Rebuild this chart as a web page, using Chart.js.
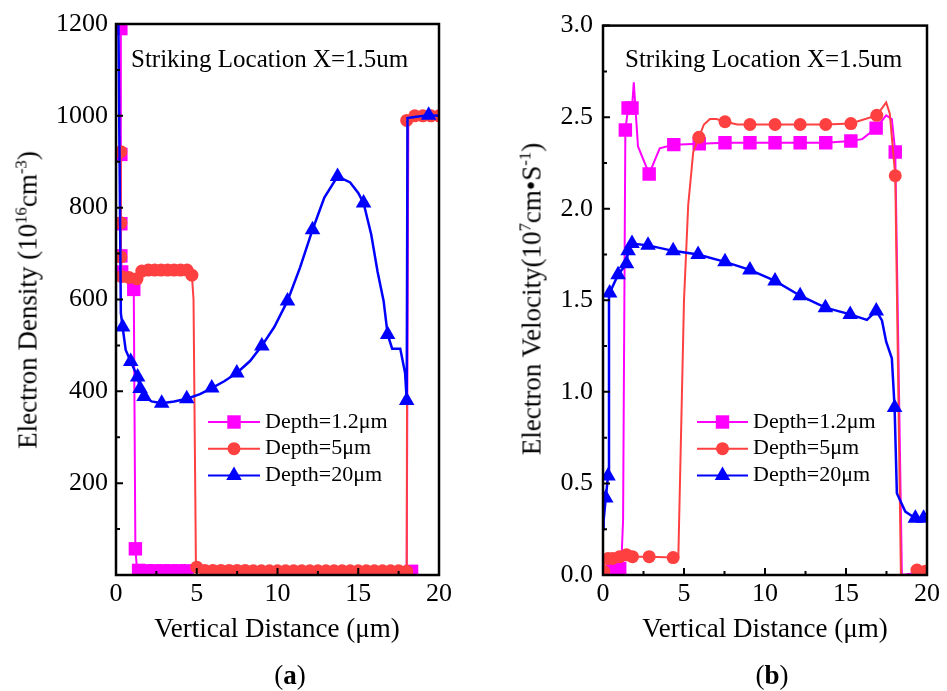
<!DOCTYPE html>
<html>
<head>
<meta charset="utf-8">
<script src="https://cdn.jsdelivr.net/npm/chart.js@4.4.1/dist/chart.umd.min.js"></script>
<style>
  body { margin: 0; background: #fff; width: 947px; height: 691px; position: relative; overflow: hidden;
         font-family: 'Liberation Serif', 'Times New Roman', serif; color: #000; }
  canvas { position: absolute; top: 0; }
  #chartA { left: 0; }
  #chartB { left: 480px; }
  .lbl { position: absolute; white-space: nowrap; line-height: 1; transform: translate(-50%, -50%); }
  .ytitle { transform: translate(-50%, -50%) rotate(-90deg); }
  sup { font-size: 0.62em; vertical-align: 0.6em; line-height: 0; }
</style>
</head>
<body>
<canvas id="chartA" width="480" height="691"></canvas>
<canvas id="chartB" width="467" height="691"></canvas>

<div class="lbl ytitle" style="left:28px; top:300px; font-size:27px;">Electron Density (10<sup>16</sup>cm<sup>-3</sup>)</div>
<div class="lbl ytitle" style="left:532px; top:299px; font-size:27px;">Electron Velocity(10<sup>7</sup>cm•S<sup>-1</sup>)</div>
<div class="lbl" style="left:277px; top:628px; font-size:27px;">Vertical Distance (μm)</div>
<div class="lbl" style="left:765px; top:628px; font-size:27px;">Vertical Distance (μm)</div>
<div class="lbl" style="left:290px; top:675px; font-size:27px;">(<b>a</b>)</div>
<div class="lbl" style="left:772px; top:675px; font-size:27px;">(<b>b</b>)</div>

<script>
// ---- data: [x (µm), value] ----
const xTicks = [0, 5, 10, 15, 20];
const seriesLabels = ['Depth=1.2μm', 'Depth=5μm', 'Depth=20μm'];
const noteText = 'Striking Location X=1.5um';

// (a) electron density, 1e16 cm^-3
const densTicks = [200, 400, 600, 800, 1000, 1200];
const densLine12 = [[0.1,1200],[0.3,1190],[0.3,916],[0.3,765],[0.3,695],[0.35,660],[0.6,655],[1.0,650],[1.1,622],
  [1.2,57],[1.3,13],[2.5,9],[4.5,9],[10,8],[18.0,8],[18.1,995],[20,1000]];
const densMarks12 = [[0.3,1190],[0.3,916],[0.3,765],[0.3,695],[0.35,660],[1.1,622],[1.2,57],[1.4,10],[1.9,9],[2.4,9],
  [2.9,9],[3.4,9],[3.9,9],[4.4,9],[18.3,8]];
const densLine5 = [[0.3,922],[0.3,767],[0.3,693],[0.35,655],[0.6,648],[1.0,655],[1.3,645],[1.5,660],[2,665],[3,665],
  [4,665],[4.5,663],[4.7,653],[4.8,600],[4.95,17],[5.5,10],[18.0,8],[18.05,990],[18.3,1000],[20,1000]];
const densMarks5 = [[0.3,922],[0.3,767],[0.3,693],[0.35,650],[0.8,648],[1.3,645],[1.6,662],[2.0,664],[2.4,664],[2.8,664],
  [3.2,664],[3.6,664],[4.0,664],[4.4,664],[4.7,653],[5.0,17],[5.5,10],[6,10],[6.5,10],[7,10],[7.5,10],[8,10],[8.5,9],
  [9,9],[9.5,9],[10,9],[10.5,9],[11,9],[11.5,9],[12,9],[12.5,9],[13,9],[13.5,9],[14,9],[14.5,9],[15,9],[15.5,9],[16,9],
  [16.5,9],[17,9],[17.5,9],[18.0,8],[18.0,990],[18.5,1000],[19.0,1000],[19.5,1000],[20,1000]];
const densLine20 = [[0.15,1200],[0.3,570],[0.41,540],[0.6,490],[0.91,465],[1.34,431],[1.49,406],[1.74,389],[2.2,378],
  [2.83,374],[3.6,378],[4.38,384],[5.2,394],[5.93,407],[6.7,422],[7.48,440],[8.3,466],[9.03,499],[9.8,540],[10.62,597],
  [11.4,670],[12.17,752],[12.9,822],[13.72,868],[14.5,855],[15.0,832],[15.33,810],[15.8,742],[16.2,660],[16.57,597],
  [16.82,524],[17.1,493],[17.6,493],[17.9,440],[18.0,380],[18.05,995],[18.6,998],[19.36,1001],[20,1000]];
const densMarks20 = [[0.41,540],[0.91,465],[1.34,431],[1.49,406],[1.74,389],[2.83,374],[4.38,384],[5.93,407],[7.48,440],
  [9.03,499],[10.62,597],[12.17,752],[13.72,868],[15.33,810],[16.82,524],[18.0,380],[19.36,1001]];

// (b) electron velocity, 1e7 cm/s
const velTicks = [0, 0.5, 1, 1.5, 2, 2.5, 3];
const velLine12 = [[0,0.01],[0.6,0.04],[1.03,0.04],[1.14,0.08],[1.24,0.3],[1.38,2.43],[1.55,2.55],[1.79,2.55],[1.9,2.69],
  [2.16,2.34],[2.85,2.19],[3.5,2.33],[4.37,2.35],[5.94,2.355],[7.53,2.36],[9.07,2.36],[10.62,2.36],[12.17,2.36],
  [13.75,2.36],[15.3,2.37],[16.0,2.38],[16.86,2.44],[17.48,2.51],[17.83,2.49],[18.04,2.31],[18.45,0.0],[20,0.02]];
const velMarks12 = [[0.6,0.04],[1.03,0.036],[1.38,2.43],[1.55,2.55],[1.79,2.55],[2.85,2.19],[4.37,2.35],[5.94,2.355],
  [7.53,2.36],[9.07,2.36],[10.62,2.36],[12.17,2.36],[13.75,2.36],[15.3,2.37],[16.86,2.44],[18.04,2.31]];
const velLine5 = [[0,0.0],[0.1,0.07],[0.31,0.09],[0.8,0.09],[1.03,0.1],[1.45,0.11],[1.82,0.10],[2.85,0.10],[4.33,0.095],
  [4.65,0.1],[5.0,1.5],[5.26,2.02],[5.57,2.31],[5.92,2.39],[6.23,2.46],[6.6,2.49],[7.0,2.49],[7.53,2.475],[8.3,2.46],
  [9.07,2.46],[10.62,2.46],[12.17,2.46],[13.75,2.46],[15.3,2.465],[16.9,2.51],[17.48,2.58],[17.7,2.52],[18.04,2.18],
  [18.39,0.0],[19.1,0.0],[19.38,0.027],[20,0.02]];
const velMarks5 = [[0.05,0.02],[0.31,0.09],[0.6,0.09],[1.03,0.1],[1.45,0.11],[1.82,0.10],[2.85,0.10],[4.33,0.095],
  [5.92,2.39],[7.53,2.475],[9.07,2.46],[10.62,2.46],[12.17,2.46],[13.75,2.46],[15.3,2.465],[16.9,2.51],[18.04,2.18],
  [19.38,0.027],[19.9,0.02]];
const velLine20 = [[0,0.25],[0.04,0.3],[0.17,0.42],[0.31,0.54],[0.37,1.53],[0.41,1.54],[0.93,1.64],[1.45,1.70],
  [1.55,1.77],[1.79,1.81],[2.78,1.80],[4.33,1.77],[5.87,1.75],[7.53,1.71],[9.07,1.666],[10.62,1.606],[12.17,1.525],
  [13.73,1.46],[15.26,1.423],[16.29,1.393],[16.87,1.442],[17.22,1.39],[17.48,1.274],[17.83,1.183],[18.0,0.914],
  [18.14,0.446],[18.66,0.346],[19.28,0.31],[19.79,0.31],[20,0.31]];
const velMarks20 = [[0.17,0.42],[0.31,0.54],[0.41,1.54],[0.93,1.64],[1.45,1.70],[1.55,1.77],[1.79,1.81],[2.78,1.80],
  [4.33,1.77],[5.87,1.75],[7.53,1.71],[9.07,1.666],[10.62,1.606],[12.17,1.525],[13.73,1.46],[15.26,1.423],[16.87,1.442],
  [18.0,0.914],[19.28,0.31],[19.79,0.31]];

// ---- styling ----
const FONT = "'Liberation Serif', 'Times New Roman', serif";
const styles = [
  { color: '#ff00ff', point: 'rect', radius: 9.5 },
  { color: '#ff4040', point: 'circle', radius: 6.5 },
  { color: '#0000ff', point: 'triangle', radius: 9 }
];

function toXY(arr) { return arr.map(([x, y]) => ({ x, y })); }

function buildDatasets(lines, marks) {
  const out = [];
  // blue on top, magenta at the back
  lines.forEach((line, i) => {
    const s = styles[i];
    const order = (lines.length - i) * 2;
    out.push({ label: seriesLabels[i], data: toXY(line), showLine: true, borderColor: s.color,
               borderWidth: i === 2 ? 2.5 : 2, pointRadius: 0, tension: 0, order: order });
    out.push({ label: seriesLabels[i], data: toXY(marks[i]), showLine: false, pointStyle: s.point,
               pointRadius: s.radius, backgroundColor: s.color, borderColor: s.color, borderWidth: 0,
               order: order - 1 });
  });
  return out;
}

function drawMarker(ctx, style, x, y, r) {
  ctx.beginPath();
  if (style === 'rect') {
    const h = r * Math.SQRT1_2;
    ctx.rect(x - h, y - h, 2 * h, 2 * h);
  } else if (style === 'circle') {
    ctx.arc(x, y, r, 0, Math.PI * 2);
  } else {
    ctx.moveTo(x, y - r);
    ctx.lineTo(x + r * Math.sin(2 * Math.PI / 3), y - r * Math.cos(2 * Math.PI / 3));
    ctx.lineTo(x + r * Math.sin(4 * Math.PI / 3), y - r * Math.cos(4 * Math.PI / 3));
    ctx.closePath();
  }
  ctx.fill();
}

// frame, inward ticks, note and legend
const framePlugin = {
  id: 'frame',
  afterDraw(chart, args, o) {
    const { ctx, chartArea: a } = chart;
    const x = chart.scales.x, y = chart.scales.y;
    ctx.save();
    ctx.strokeStyle = '#000';
    ctx.lineWidth = 2;
    ctx.beginPath();
    for (let v = x.min; v <= x.max + 1e-9; v += o.xMinor) {
      const px = x.getPixelForValue(v);
      const major = Math.abs(v / o.xMajor - Math.round(v / o.xMajor)) < 1e-6;
      ctx.moveTo(px, a.bottom);
      ctx.lineTo(px, a.bottom - (major ? 7 : 4));
    }
    for (let v = y.min; v <= y.max + 1e-9; v += o.yMinor) {
      const py = y.getPixelForValue(v);
      const major = Math.abs(v / o.yMajor - Math.round(v / o.yMajor)) < 1e-6;
      ctx.moveTo(a.left, py);
      ctx.lineTo(a.left + (major ? 7 : 4), py);
    }
    ctx.stroke();
    ctx.lineWidth = 2.5;
    ctx.strokeRect(a.left, a.top, a.right - a.left, a.bottom - a.top);

    ctx.fillStyle = '#000';
    ctx.textBaseline = 'middle';
    ctx.textAlign = 'left';
    ctx.font = '25px ' + FONT;
    ctx.fillText(noteText, o.noteX, o.noteY);

    ctx.font = '22px ' + FONT;
    styles.forEach((s, i) => {
      const ly = o.legY + i * o.legGap;
      ctx.strokeStyle = s.color;
      ctx.fillStyle = s.color;
      ctx.lineWidth = 2;
      ctx.beginPath();
      ctx.moveTo(o.legX, ly);
      ctx.lineTo(o.legX + o.legLen, ly);
      ctx.stroke();
      drawMarker(ctx, s.point, o.legX + o.legLen / 2, ly, s.radius);
      ctx.fillStyle = '#000';
      ctx.fillText(seriesLabels[i], o.legX + o.legLen + 5, ly);
    });
    ctx.restore();
  }
};

function makeChart(id, datasets, yOpts, yWidth, padRight, frameOpts) {
  return new Chart(document.getElementById(id), {
    type: 'scatter',
    data: { datasets },
    options: {
      responsive: false,
      animation: false,
      events: [],
      devicePixelRatio: 1,
      layout: { padding: { left: 0, top: 24, right: padRight, bottom: 0 } },
      plugins: { legend: { display: false }, tooltip: { enabled: false }, frame: frameOpts },
      scales: {
        x: {
          type: 'linear', position: 'bottom', min: 0, max: 20,
          grid: { display: false, drawTicks: false }, border: { display: false },
          afterBuildTicks: s => { s.ticks = xTicks.map(v => ({ value: v })); },
          ticks: { font: { family: FONT, size: 26 }, color: '#000', padding: 4, maxRotation: 0,
                   callback: v => String(v) },
          afterFit: s => { s.height = 691 - 575; }
        },
        y: Object.assign({
          type: 'linear', position: 'left',
          grid: { display: false, drawTicks: false }, border: { display: false },
          afterFit: s => { s.width = yWidth; }
        }, yOpts)
      }
    },
    plugins: [framePlugin]
  });
}

makeChart('chartA',
  buildDatasets([densLine12, densLine5, densLine20], [densMarks12, densMarks5, densMarks20]),
  {
    min: 0, max: 1200,
    afterBuildTicks: s => { s.ticks = densTicks.map(v => ({ value: v })); },
    ticks: { font: { family: FONT, size: 26 }, color: '#000', padding: 8, callback: v => String(v) }
  },
  116, 41,
  { xMajor: 5, xMinor: 2.5, yMajor: 200, yMinor: 100,
    noteX: 131, noteY: 60, legX: 208, legY: 422, legGap: 26.7, legLen: 52 });

makeChart('chartB',
  buildDatasets([velLine12, velLine5, velLine20], [velMarks12, velMarks5, velMarks20]),
  {
    min: 0, max: 3,
    afterBuildTicks: s => { s.ticks = velTicks.map(v => ({ value: v })); },
    ticks: { font: { family: FONT, size: 26 }, color: '#000', padding: 10, callback: v => v.toFixed(1) }
  },
  123, 20,
  { xMajor: 5, xMinor: 2.5, yMajor: 0.5, yMinor: 0.25,
    noteX: 145, noteY: 60, legX: 217, legY: 422, legGap: 26.7, legLen: 51 });
</script>
</body>
</html>
